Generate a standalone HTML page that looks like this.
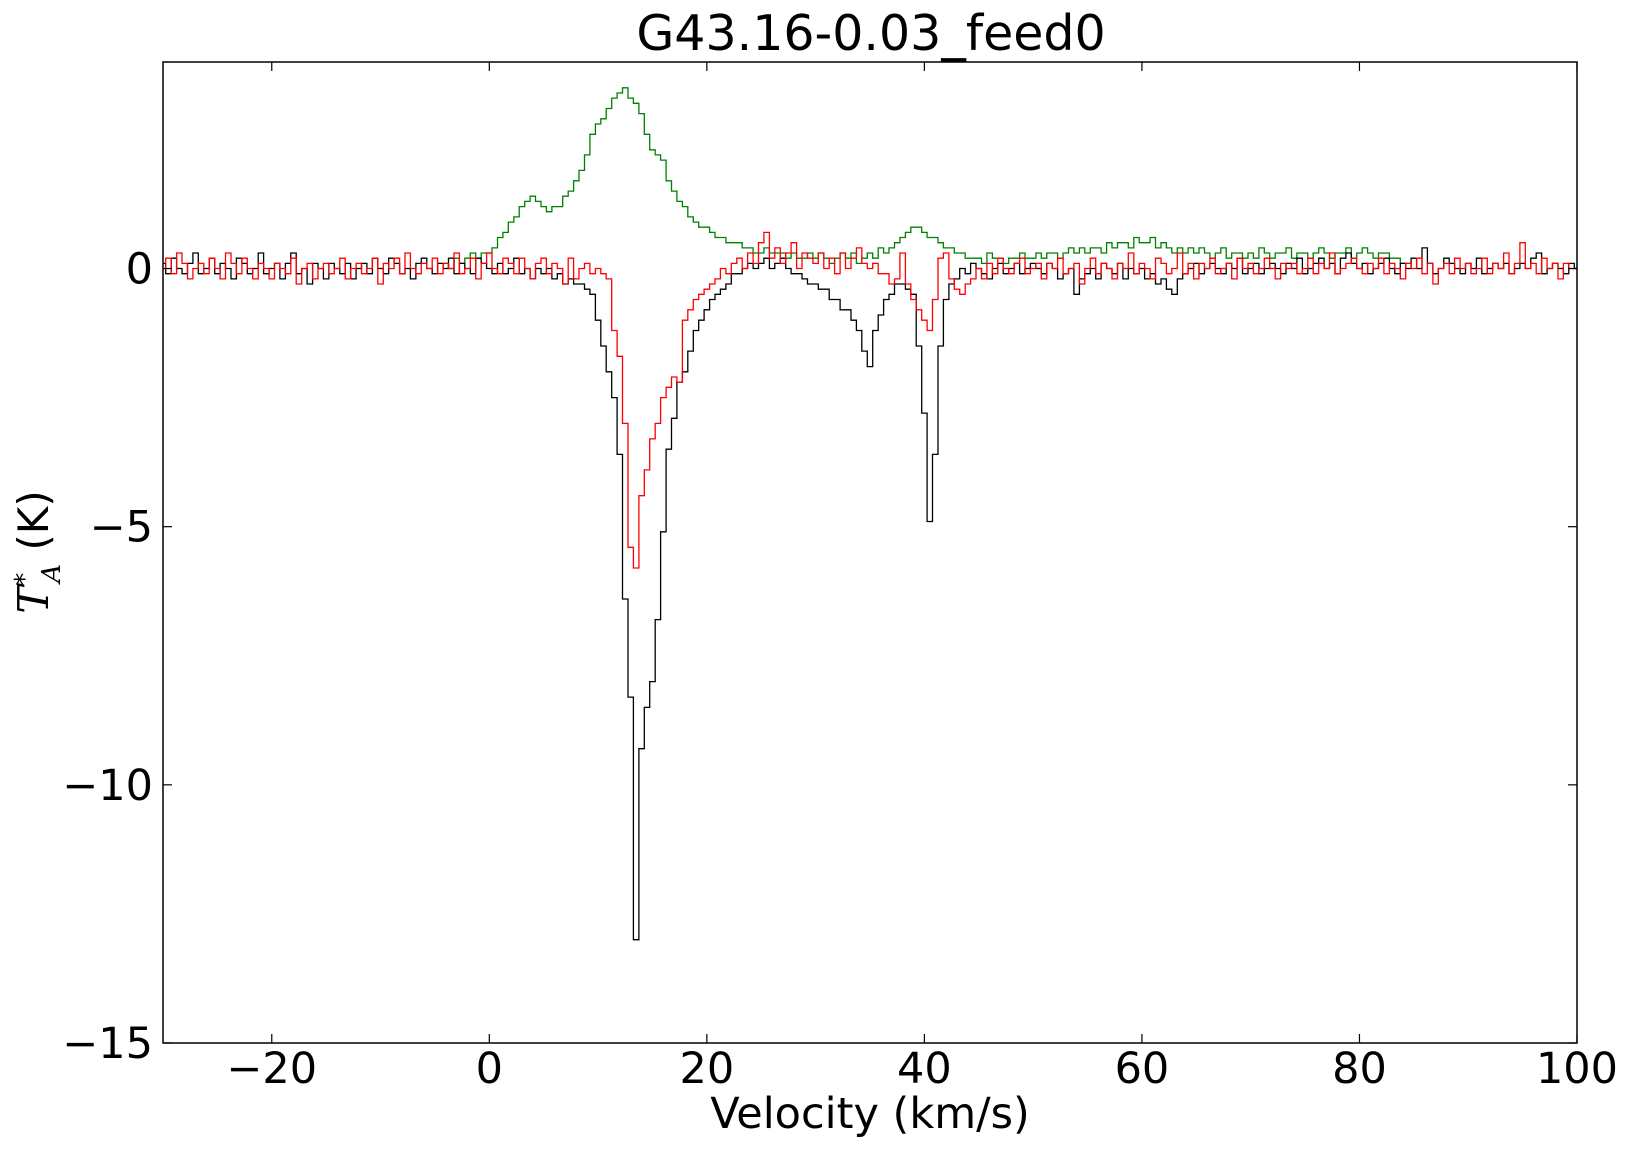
<!DOCTYPE html>
<html><head><meta charset="utf-8"><style>
html,body{margin:0;padding:0;background:#fff;}
svg{display:block;font-family:"DejaVu Sans","Liberation Sans",sans-serif;}
</style></head><body>
<svg id="chart" width="1629" height="1152" viewBox="0 0 1629 1152">
<text x="871" y="50" font-size="49" text-anchor="middle">G43.16-0.03_feed0</text>
<text x="870" y="1128" font-size="43" text-anchor="middle">Velocity (km/s)</text>
<g transform="translate(48,552) rotate(-90)"><text x="0" y="0" font-size="42" text-anchor="middle"><tspan font-family="DejaVu Serif,serif" font-style="italic">T</tspan><tspan font-size="26" dy="-15">*</tspan><tspan font-size="26" dy="27" dx="-10" font-family="DejaVu Serif,serif" font-style="italic">A</tspan><tspan dy="-12"> (K)</tspan></text></g>
<g id="plot"></g>
</svg>
<script>
const xTicks=[-20,0,20,40,60,80,100];
const yTicks=[0,-5,-10,-15];
const blackStart=-30, redStart=-30, greenStart=-4, chanStep=0.5;
const blackVals=[0.1,-0.1,0.2,0.0,-0.1,0.1,0.3,-0.1,0.0,0.2,
-0.1,0.1,0.0,-0.2,0.2,0.1,-0.1,0.0,0.3,-0.1,
0.0,0.1,-0.2,0.1,0.3,-0.1,0.0,-0.3,0.1,0.0,
-0.2,0.1,0.0,-0.1,0.1,-0.2,0.0,0.1,-0.1,0.2,
0.0,-0.1,0.2,0.1,-0.1,0.0,-0.2,0.1,0.2,0.0,
-0.1,0.1,0.0,0.2,-0.1,0.1,0.0,-0.1,0.2,0.1,
0.0,-0.1,0.1,-0.1,0.0,0.2,-0.1,0.0,-0.2,0.0,
-0.1,0.0,-0.2,-0.1,-0.3,-0.2,-0.3,-0.3,-0.4,-0.5,
-1.0,-1.5,-2.0,-2.5,-3.6,-6.4,-8.3,-13.0,-9.3,-8.5,
-8.0,-6.8,-5.1,-3.5,-2.9,-2.2,-2.0,-1.6,-1.2,-1.0,
-0.8,-0.6,-0.5,-0.4,-0.3,-0.1,-0.1,0.0,0.1,0.0,
0.1,0.2,0.0,0.1,0.2,0.0,-0.1,-0.1,-0.2,-0.3,
-0.3,-0.4,-0.4,-0.6,-0.6,-0.8,-0.8,-1.0,-1.2,-1.6,
-1.9,-1.2,-0.9,-0.6,-0.5,-0.3,-0.3,-0.4,-0.5,-1.5,
-2.8,-4.9,-3.6,-1.5,-0.6,-0.3,-0.2,0.0,-0.1,0.1,
0.0,-0.1,-0.2,0.0,0.1,-0.1,0.0,0.1,-0.1,0.0,
0.1,0.0,-0.1,0.1,0.0,-0.2,-0.1,0.0,-0.5,-0.2,
-0.1,0.0,-0.2,0.1,0.0,-0.1,0.1,-0.2,0.0,-0.1,
0.0,-0.2,-0.1,-0.3,-0.2,-0.4,-0.5,-0.2,-0.1,0.0,
0.1,-0.1,0.0,0.1,0.0,-0.1,0.1,0.0,0.2,-0.1,
0.0,0.1,-0.1,0.0,0.1,0.0,-0.1,0.1,0.0,0.2,
-0.1,0.0,0.1,0.2,0.0,0.1,-0.1,0.2,0.3,0.1,
0.0,0.1,-0.1,0.0,0.1,0.2,0.0,-0.1,0.1,0.0,
0.2,0.0,0.4,0.1,-0.1,0.0,0.2,0.1,0.0,-0.1,
0.1,0.0,0.2,-0.1,0.0,0.1,0.0,0.1,-0.1,0.0,
0.1,0.0,0.2,0.3,-0.1,0.0,0.1,0.0,-0.1,0.1,
0.0];
const redVals=[0.0,0.2,-0.1,0.3,0.1,-0.2,0.0,0.1,-0.1,0.2,
0.0,-0.2,0.3,0.1,-0.1,0.2,0.0,-0.2,0.1,0.0,
-0.2,0.1,0.0,-0.1,0.2,-0.3,0.0,0.1,-0.2,0.0,
0.1,-0.1,0.0,0.2,-0.2,0.0,0.1,-0.1,0.0,0.2,
-0.3,0.1,0.0,0.2,-0.1,0.3,0.0,-0.1,0.1,0.0,
0.2,-0.1,0.1,0.0,0.3,-0.1,0.0,0.2,-0.2,0.1,
0.3,0.0,-0.1,0.2,0.1,-0.1,0.2,0.0,-0.2,0.1,
0.2,-0.1,0.1,0.0,-0.3,0.2,-0.2,0.0,0.1,-0.1,
0.0,-0.1,-0.2,-1.2,-1.7,-3.0,-5.4,-5.8,-4.4,-3.9,
-3.3,-3.0,-2.5,-2.3,-2.1,-2.2,-1.0,-0.8,-0.6,-0.5,
-0.4,-0.3,-0.2,0.0,-0.1,0.1,0.2,0.0,0.3,0.1,
0.5,0.7,0.2,0.4,0.1,0.3,0.5,0.0,0.3,0.2,
0.1,0.3,0.0,0.2,-0.1,0.3,0.0,0.2,0.4,0.1,
0.0,0.1,-0.1,-0.1,-0.3,-0.2,0.3,-0.3,-0.6,-0.8,
-1.0,-1.2,-0.6,0.2,0.3,-0.2,-0.4,-0.5,-0.3,-0.2,
0.0,-0.2,0.1,-0.1,0.2,0.0,-0.1,0.1,0.2,-0.1,
0.0,0.1,-0.2,0.1,0.0,0.2,-0.1,0.0,0.1,-0.3,
0.0,0.2,-0.1,0.1,0.0,-0.2,0.1,0.0,0.3,-0.1,
0.1,0.0,-0.2,0.2,0.1,-0.1,0.0,0.3,-0.1,0.1,
-0.2,0.1,0.0,0.2,-0.1,0.0,0.1,-0.2,0.2,0.0,
0.1,-0.1,0.0,0.2,0.0,-0.2,0.1,0.0,0.1,-0.1,
0.0,0.2,-0.1,0.1,0.0,0.3,-0.1,0.0,0.1,0.2,
0.0,-0.1,0.1,0.0,0.2,-0.1,0.1,0.0,-0.2,0.1,
0.0,0.2,-0.1,0.1,-0.3,0.0,0.1,-0.1,0.2,0.0,
0.1,-0.1,0.0,0.2,-0.1,0.1,0.0,0.3,-0.1,0.1,
0.5,0.0,0.1,-0.1,0.2,0.0,0.1,-0.2,0.1,0.0,
0.0];
const greenVals=[0.1,0.0,0.2,0.1,0.2,0.3,0.2,0.3,
0.3,0.4,0.6,0.7,0.9,1.0,1.2,1.3,1.4,1.3,
1.2,1.1,1.2,1.2,1.4,1.5,1.7,1.9,2.2,2.6,
2.8,2.9,3.1,3.3,3.4,3.5,3.3,3.2,3.0,2.6,
2.3,2.2,2.1,1.7,1.5,1.3,1.2,1.0,0.9,0.8,
0.8,0.7,0.6,0.6,0.5,0.5,0.5,0.4,0.4,0.3,
0.3,0.4,0.3,0.3,0.3,0.2,0.3,0.2,0.2,0.3,
0.2,0.3,0.2,0.1,0.2,0.3,0.2,0.3,0.1,0.2,
0.3,0.2,0.4,0.3,0.4,0.5,0.6,0.7,0.8,0.8,
0.7,0.6,0.6,0.5,0.4,0.4,0.3,0.3,0.2,0.2,
0.2,0.1,0.3,0.2,0.2,0.1,0.2,0.2,0.3,0.2,
0.2,0.3,0.2,0.3,0.3,0.2,0.3,0.4,0.3,0.4,
0.3,0.4,0.4,0.3,0.5,0.4,0.5,0.5,0.4,0.6,
0.5,0.5,0.6,0.4,0.5,0.4,0.3,0.4,0.3,0.4,
0.3,0.4,0.3,0.2,0.3,0.4,0.2,0.3,0.3,0.2,
0.3,0.2,0.4,0.3,0.2,0.3,0.3,0.4,0.2,0.3,
0.3,0.2,0.3,0.4,0.3,0.2,0.3,0.3,0.4,0.2,
0.3,0.4,0.3,0.2,0.3,0.3,0.2,0.2,0.1,0.1];

const L=163,R=1577,T=62,B=1043,XMIN=-30,XMAX=100,YMIN=-15,YMAX=4;
const xs=v=>L+(v-XMIN)/(XMAX-XMIN)*(R-L);
const ys=v=>B-(v-YMIN)/(YMAX-YMIN)*(B-T);
const NS='http://www.w3.org/2000/svg';
const plot=document.getElementById('plot');
function mk(tag,attrs){const e=document.createElementNS(NS,tag);for(const k in attrs)e.setAttribute(k,attrs[k]);return e;}

const clip=mk('clipPath',{id:'pc'});clip.appendChild(mk('rect',{x:L,y:T,width:R-L,height:B-T}));plot.appendChild(clip);

function stepPath(start,vals){
  let d='';
  for(let i=0;i<vals.length;i++){
    const v=start+i*chanStep;
    const x0=xs(v-chanStep/2),x1=xs(v+chanStep/2),y=ys(vals[i]);
    d+=(i===0?'M':'L')+x0.toFixed(1)+','+y.toFixed(1)+'L'+x1.toFixed(1)+','+y.toFixed(1);
  }
  return d;
}
const series=[['green',greenStart,greenVals,'#008000'],['black',blackStart,blackVals,'#000'],['red',redStart,redVals,'#ff0000']];
for(const s of series){
  const p=mk('path',{d:stepPath(s[1],s[2]),fill:'none',stroke:s[3],'stroke-width':1.3,'clip-path':'url(#pc)'});
  
  
  plot.appendChild(p);
}

const frame=mk('rect',{x:L,y:T,width:R-L,height:B-T,fill:'none',stroke:'#000','stroke-width':1.5});


plot.appendChild(frame);

const fmt=v=>v<0?'\u2212'+Math.abs(v):String(v);
for(const t of xTicks){
  const x=xs(t);
  plot.appendChild(mk('line',{x1:x,y1:B,x2:x,y2:B-9,stroke:'#000','stroke-width':1.2}));
  plot.appendChild(mk('line',{x1:x,y1:T,x2:x,y2:T+9,stroke:'#000','stroke-width':1.2}));
  const tx=mk('text',{x:x,y:B+40,'font-size':43,'text-anchor':'middle'});
  tx.textContent=fmt(t);
  
  
  plot.appendChild(tx);
}
for(const t of yTicks){
  const y=ys(t);
  plot.appendChild(mk('line',{x1:L,y1:y,x2:L+9,y2:y,stroke:'#000','stroke-width':1.2}));
  plot.appendChild(mk('line',{x1:R,y1:y,x2:R-9,y2:y,stroke:'#000','stroke-width':1.2}));
  const ty=mk('text',{x:L-10,y:y+15,'font-size':43,'text-anchor':'end'});
  ty.textContent=fmt(t);
  
  
  plot.appendChild(ty);
}
</script>
</body></html>
